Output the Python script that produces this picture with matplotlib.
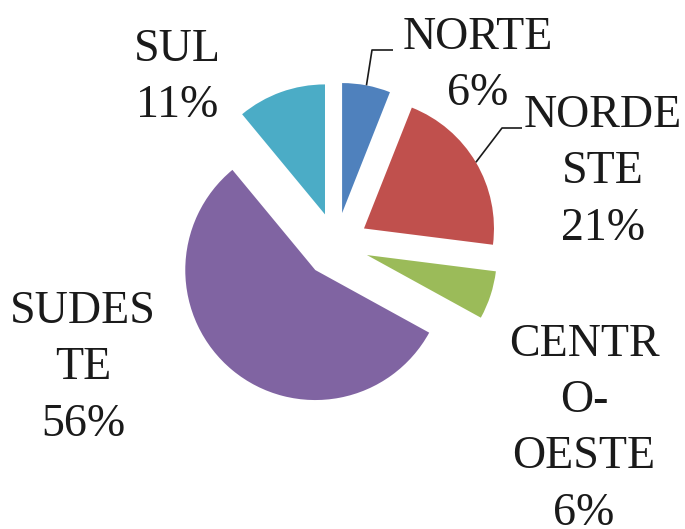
import numpy as np
import matplotlib
matplotlib.use("Agg")
import matplotlib.pyplot as plt

# ---- data ----
regions = ["NORTE", "NORDESTE", "CENTRO-OESTE", "SUDESTE", "SUL"]
label_texts = ["NORTE\n6%", "NORDE\nSTE\n21%", "CENTR\nO-\nOESTE\n6%", "SUDES\nTE\n56%", "SUL\n11%"]
shares = [6, 21, 6, 56, 11]
colors = ["#4F81BD", "#C0504D", "#9BBB59", "#8064A2", "#4BACC6"]

W, H = 685, 529
fig = plt.figure(figsize=(W / 100, H / 100), dpi=100)
ax = fig.add_axes([0, 0, 1, 1])

cx, cy, R = 336, 245, 130  # pixel centre / radius
explode = [0.25] * len(shares)

wedges, _ = ax.pie(shares, explode=explode, startangle=90, counterclock=False,
                   colors=colors, radius=1.0,
                   wedgeprops=dict(linewidth=0))
ax.set_xlim(-cx / R, (W - cx) / R)
ax.set_ylim(-(H - cy) / R, cy / R)
ax.set_aspect("equal")
ax.axis("off")

def px(x, y):
    return (x - cx) / R, (cy - y) / R

# label block centres (pixels)
label_pos = [(478, 66), (603, 172), (584, 429), (83, 368), (177, 78)]
font = dict(family="Liberation Serif", size=33, color="#1a1a1a", linespacing=1.43)
for txt, (lx, ly) in zip(label_texts, label_pos):
    X, Y = px(lx, ly)
    ax.text(X, Y, txt, ha="center", va="center", **font)

# leader lines for NORTE and NORDESTE
def arc_mid(w):
    ang = np.deg2rad((w.theta1 + w.theta2) / 2)
    return w.center[0] + w.r * np.cos(ang), w.center[1] + w.r * np.sin(ang)

leaders = {0: [(393, 50), (372, 50)], 1: [(522, 128), (502, 128)]}
for i, pts in leaders.items():
    ex, ey = arc_mid(wedges[i])
    xs = [px(*p)[0] for p in pts] + [ex]
    ys = [px(*p)[1] for p in pts] + [ey]
    ax.plot(xs, ys, color="#1a1a1a", lw=1.2, solid_capstyle="butt")

fig.savefig("out.png", dpi=100, facecolor="white")
